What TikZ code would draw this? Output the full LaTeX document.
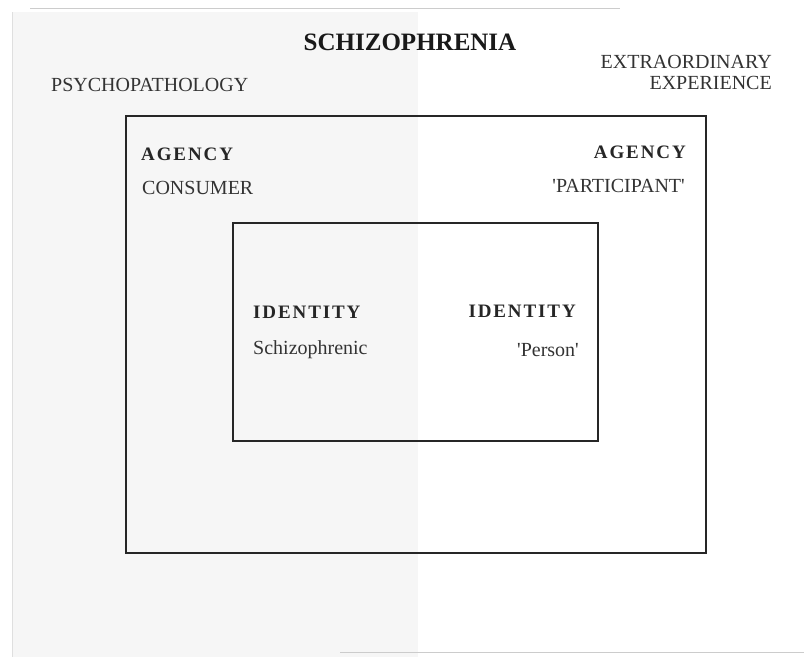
\documentclass[tikz,border=0pt]{standalone}
\usepackage{fontspec}
\setmainfont{Liberation Serif}
\newfontfamily\spacedbold[LetterSpace=10]{Liberation Serif}
\begin{document}
\begin{tikzpicture}[x=1pt,y=-1pt,
  frame/.style={draw=black!85,line width=2.4pt},
  title/.style={font=\fontsize{25}{29}\selectfont\bfseries,inner sep=0pt,text=black!90},
  label/.style={font=\fontsize{20}{24}\selectfont,inner sep=0pt,text=black!80},
  head/.style={font=\fontsize{19}{22}\selectfont\spacedbold\bfseries,inner sep=0pt,text=black!85}]
  \useasboundingbox (0,0) rectangle (804,657);
  \fill[white] (0,0) rectangle (804,657);
  % shaded left half of the sheet
  \fill[gray!7] (12,12) rectangle (418,657);
  \draw[gray!40,line width=0.6pt] (30,8) -- (620,8);
  \draw[gray!40,line width=0.6pt] (340,652) -- (804,652);
  \draw[gray!25,line width=0.6pt] (12,12) -- (12,657);
  % nested frames
  \node[frame,minimum width=580pt,minimum height=437pt,anchor=north west,inner sep=0pt] (agency) at (125,115) {};
  \node[frame,minimum width=365pt,minimum height=218pt,anchor=north west,inner sep=0pt] (identity) at (232,222) {};
  % headings
  \node[title] (schiz) at (410,42) {SCHIZOPHRENIA};
  \node[label,anchor=west] (psych) at (51,85) {PSYCHOPATHOLOGY};
  \node[label,anchor=east] (extra1) at (772,62) {EXTRAORDINARY};
  \node[label,anchor=east] (extra2) at (772,83) {EXPERIENCE};
  % agency labels
  \node[head,anchor=west] (agL) at (141,154) {AGENCY};
  \node[label,anchor=west] (cons) at (142,188) {CONSUMER};
  \node[head,anchor=east] (agR) at (686,152) {AGENCY};
  \node[label,anchor=east] (part) at (685,186) {\textquotesingle PARTICIPANT\textquotesingle};
  % identity labels
  \node[head,anchor=west] (idL) at (253,312) {IDENTITY};
  \node[label,anchor=west] (schizo) at (253,350) {Schizophrenic};
  \node[head,anchor=east] (idR) at (576,311) {IDENTITY};
  \node[label,anchor=east] (pers) at (579,350) {\textquotesingle Person\textquotesingle};
\end{tikzpicture}
\end{document}
